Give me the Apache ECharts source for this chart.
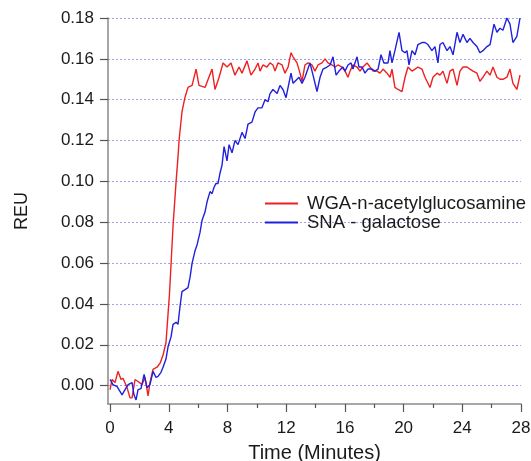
<!DOCTYPE html>
<html><head><meta charset="utf-8">
<script src="https://cdn.jsdelivr.net/npm/echarts@6/dist/echarts.min.js"></script>
<style>html,body{margin:0;padding:0;background:#fff}#c{width:531px;height:461px}</style>
</head><body><div id="c"></div>
<script>
const xTicks = [0, 4, 8, 12, 16, 20, 24, 28];
const xMinorTicks = [2, 6, 10, 14, 18, 22, 26];
const yTicks = [0, 0.02, 0.04, 0.06, 0.08, 0.10, 0.12, 0.14, 0.16, 0.18];
const seriesNames = ['WGA-n-acetylglucosamine', 'SNA - galactose'];

const wgaTime = [0.00,0.14,0.34,0.54,0.75,0.89,1.16,1.36,1.50,1.70,1.91,2.18,2.38,2.59,2.72,2.93,3.20,3.41,3.61,3.81,3.95,4.05,4.16,4.29,4.50,4.63,4.70,4.90,5.10,5.31,5.59,5.86,6.06,6.47,6.95,7.15,7.43,7.70,7.97,8.24,8.51,8.79,8.99,9.33,9.60,9.88,10.08,10.22,10.42,10.69,10.90,11.10,11.24,11.44,11.72,11.92,12.13,12.33,12.47,12.74,12.94,13.08,13.28,13.49,13.76,13.96,14.17,14.44,14.65,14.85,15.12,15.33,15.53,15.80,16.01,16.21,16.35,16.55,16.83,17.03,17.23,17.51,17.71,17.92,18.19,18.39,18.60,18.87,19.08,19.21,19.41,19.62,19.89,20.10,20.30,20.57,20.78,20.98,21.25,21.46,21.80,22.00,22.28,22.48,22.68,22.96,23.16,23.37,23.64,23.84,24.05,24.32,24.52,24.73,25.00,25.20,25.41,25.68,25.89,26.09,26.36,26.57,26.77,27.04,27.25,27.45,27.72,27.93];
const wgaValue = [-0.002,0.003,0.0015,0.007,0.003,0.0035,-0.001,-0.006,-0.006,0.003,0.002,0.0005,0.004,-0.005,0.0015,0.008,0.009,0.011,0.015,0.021,0.035,0.045,0.060,0.078,0.100,0.112,0.120,0.134,0.141,0.146,0.147,0.155,0.147,0.146,0.155,0.145,0.151,0.158,0.156,0.158,0.152,0.156,0.153,0.159,0.152,0.155,0.158,0.154,0.157,0.156,0.158,0.157,0.154,0.158,0.157,0.153,0.156,0.163,0.161,0.158,0.153,0.149,0.157,0.158,0.157,0.154,0.157,0.158,0.160,0.158,0.157,0.156,0.157,0.156,0.154,0.151,0.154,0.157,0.156,0.154,0.156,0.158,0.156,0.154,0.154,0.153,0.155,0.153,0.151,0.155,0.146,0.145,0.144,0.151,0.156,0.154,0.155,0.156,0.155,0.151,0.146,0.151,0.153,0.152,0.154,0.148,0.154,0.155,0.147,0.154,0.156,0.156,0.155,0.154,0.153,0.149,0.151,0.154,0.152,0.156,0.151,0.150,0.150,0.151,0.155,0.148,0.145,0.152];

const snaTime = [0.00,0.20,0.48,0.82,1.02,1.23,1.50,1.63,1.77,1.91,2.11,2.32,2.52,2.72,2.93,3.13,3.27,3.47,3.61,3.81,3.95,4.16,4.29,4.50,4.63,4.77,4.90,5.11,5.31,5.45,5.59,5.79,5.93,6.13,6.27,6.47,6.61,6.81,6.95,7.08,7.22,7.36,7.49,7.63,7.77,7.97,8.11,8.31,8.51,8.72,8.99,9.20,9.40,9.67,9.88,10.08,10.35,10.56,10.76,10.90,11.10,11.38,11.58,11.78,11.99,12.13,12.33,12.47,12.74,12.87,13.08,13.28,13.62,13.83,14.10,14.31,14.51,14.78,14.99,15.19,15.40,15.60,15.87,16.01,16.21,16.42,16.55,16.83,16.96,17.17,17.37,17.57,17.85,18.05,18.26,18.46,18.66,18.94,19.07,19.21,19.41,19.69,19.89,20.10,20.23,20.37,20.57,20.78,20.98,21.25,21.46,21.66,21.93,22.14,22.34,22.48,22.68,22.96,23.16,23.37,23.64,23.84,24.05,24.32,24.52,24.73,25.00,25.20,25.41,25.68,25.89,26.16,26.36,26.57,26.77,27.04,27.25,27.45,27.72,27.93];
const snaValue = [0.003,0.0005,-0.0005,-0.0045,-0.002,0.0005,0.0015,-0.0045,-0.007,-0.002,-0.0015,0.0055,-0.001,0.0005,0.007,0.004,0.0045,0.0065,0.009,0.013,0.019,0.024,0.030,0.031,0.030,0.039,0.046,0.047,0.048,0.053,0.060,0.066,0.069,0.075,0.081,0.085,0.090,0.095,0.094,0.097,0.099,0.099,0.104,0.108,0.117,0.110,0.118,0.114,0.120,0.118,0.124,0.121,0.128,0.129,0.134,0.136,0.136,0.140,0.139,0.143,0.145,0.143,0.147,0.145,0.141,0.146,0.153,0.148,0.150,0.151,0.148,0.151,0.158,0.152,0.144,0.151,0.155,0.156,0.157,0.161,0.152,0.154,0.156,0.154,0.157,0.158,0.155,0.161,0.156,0.156,0.153,0.155,0.155,0.154,0.155,0.162,0.158,0.158,0.164,0.158,0.164,0.173,0.164,0.163,0.164,0.157,0.164,0.162,0.167,0.168,0.168,0.167,0.164,0.166,0.158,0.167,0.168,0.164,0.166,0.162,0.173,0.168,0.172,0.168,0.170,0.168,0.166,0.163,0.164,0.166,0.167,0.177,0.173,0.175,0.174,0.180,0.177,0.168,0.171,0.180];

const zip = (t, v) => t.map((x, i) => [x, v[i]]);
const font = 'Liberation Sans, Arial, sans-serif';

const chart = echarts.init(document.getElementById('c'), null, {renderer: 'canvas'});
chart.setOption({
  animation: false,
  backgroundColor: '#fff',
  grid: {left: 108, right: 10, top: 18, bottom: 57, containLabel: false, outerBoundsMode: 'none'},
  legend: {
    orient: 'vertical', left: 265, top: 194, itemGap: 0, padding: 0,
    itemWidth: 33, itemHeight: 2, icon: 'rect',
    textStyle: {fontFamily: font, fontSize: 18.5, lineHeight: 19, color: '#1a1a1a', padding: [0, 0, 0, 4]},
    data: seriesNames
  },
  xAxis: [{
    type: 'value', min: -0.14, max: 28,
    name: 'Time (Minutes)', nameLocation: 'middle', nameGap: 39,
    nameTextStyle: {fontFamily: font, fontSize: 20, color: '#1a1a1a'},
    axisLine: {show: true, onZero: false, lineStyle: {color: '#8a8a8a', width: 1.5}},
    axisTick: {show: true, inside: false, length: 8, customValues: xTicks, lineStyle: {color: '#555', width: 1.2}},
    axisLabel: {customValues: xTicks, margin: 16, fontFamily: font, fontSize: 17, color: '#1a1a1a'},
    splitLine: {show: false}
  }, {
    type: 'value', min: -0.14, max: 28, position: 'bottom',
    axisLine: {show: false, onZero: false},
    axisTick: {show: true, inside: false, length: 4, customValues: xMinorTicks, lineStyle: {color: '#555', width: 1.2}},
    axisLabel: {show: false},
    splitLine: {show: false}
  }],
  yAxis: {
    type: 'value', min: -0.009, max: 0.18,
    name: 'REU', nameLocation: 'middle', nameGap: 77, nameRotate: 90,
    nameTextStyle: {fontFamily: font, fontSize: 18, color: '#1a1a1a'},
    axisLine: {show: true, onZero: false, lineStyle: {color: '#8a8a8a', width: 1.5}},
    axisTick: {show: true, inside: false, length: 8, customValues: yTicks, lineStyle: {color: '#555', width: 1.2}},
    axisLabel: {customValues: yTicks, margin: 14, fontFamily: font, fontSize: 17, color: '#1a1a1a',
      formatter: v => v.toFixed(2)},
    splitLine: {show: true, lineStyle: {color: '#a0a0f0', type: [2, 2], width: 1}}
  },
  series: [{
    name: seriesNames[0], type: 'line', data: zip(wgaTime, wgaValue),
    showSymbol: false, symbol: 'none', lineStyle: {color: '#ee2020', width: 1.4}, itemStyle: {color: '#ee2020'}
  }, {
    name: seriesNames[1], type: 'line', data: zip(snaTime, snaValue),
    showSymbol: false, symbol: 'none', lineStyle: {color: '#2020dd', width: 1.4}, itemStyle: {color: '#2020dd'}
  }]
});
</script></body></html>
